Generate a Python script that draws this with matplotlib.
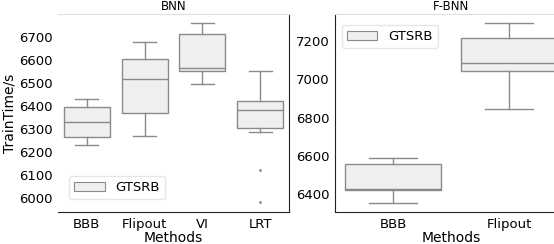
import matplotlib.pyplot as plt

# BNN panel (left)
bnn_methods = ['BBB', 'Flipout', 'VI', 'LRT']
bnn_whislo = [6230, 6269, 6494, 6286]
bnn_q1 = [6267, 6368, 6551, 6303]
bnn_med = [6329, 6515, 6566, 6382]
bnn_q3 = [6394, 6602, 6710, 6421]
bnn_whishi = [6429, 6676, 6758, 6553]
bnn_fliers = [[], [], [], [6123, 5983]]

# F-BNN panel (right)
fbnn_methods = ['BBB', 'Flipout']
fbnn_whislo = [6355, 6843]
fbnn_q1 = [6421, 7042]
fbnn_med = [6429, 7084]
fbnn_q3 = [6556, 7212]
fbnn_whishi = [6588, 7291]
fbnn_fliers = [[], []]

face = '#efefef'
edge = '#8a8a8a'


def stats(lo, q1, med, q3, hi, fl):
    return [dict(whislo=a, q1=b, med=c, q3=d, whishi=e, fliers=f)
            for a, b, c, d, e, f in zip(lo, q1, med, q3, hi, fl)]


def draw(ax, methods, st, title, width):
    ax.bxp(st, positions=range(len(methods)), widths=width,
           patch_artist=True, showfliers=True,
           boxprops=dict(facecolor=face, edgecolor=edge, linewidth=1),
           medianprops=dict(color=edge, linewidth=1),
           whiskerprops=dict(color=edge, linewidth=1),
           capprops=dict(color=edge, linewidth=1),
           flierprops=dict(marker='.', markersize=2, markerfacecolor=edge,
                           markeredgecolor=edge))
    ax.set_xlim(-0.5, len(methods) - 0.5)
    ax.set_xticks(range(len(methods)))
    ax.set_xticklabels(methods)
    ax.set_xlabel('Methods', fontsize=10, labelpad=0)
    ax.set_title(title, fontsize=8.5, pad=3)
    ax.tick_params(length=0, labelsize=9.5, pad=4)
    ax.spines['top'].set_color('#e0e0e0')
    for s in ['left', 'right', 'bottom']:
        ax.spines[s].set_color('#222222')
    leg_patch = plt.Rectangle((0, 0), 1, 1, facecolor=face, edgecolor=edge,
                              linewidth=0.8)
    return leg_patch


fig = plt.figure(figsize=(5.54, 2.44), dpi=100)
ax1 = fig.add_axes([58 / 554, 32 / 244, 231 / 554, 198 / 244])
ax2 = fig.add_axes([335 / 554, 32 / 244, 232 / 554, 198 / 244])

h1 = draw(ax1, bnn_methods,
          stats(bnn_whislo, bnn_q1, bnn_med, bnn_q3, bnn_whishi, bnn_fliers),
          'BNN', 0.8)
ax1.set_ylim(5941, 6798)
ax1.set_yticks([6000, 6100, 6200, 6300, 6400, 6500, 6600, 6700])
ax1.set_ylabel('TrainTime/s', fontsize=10, labelpad=2)
ax1.spines['left'].set_visible(False)
ax1.legend([h1], ['GTSRB'], loc='lower left', fontsize=9.5,
           bbox_to_anchor=(0.02, 0.03), handlelength=2.3, framealpha=1,
           edgecolor='#e6e6e6')

h2 = draw(ax2, fbnn_methods,
          stats(fbnn_whislo, fbnn_q1, fbnn_med, fbnn_q3, fbnn_whishi, fbnn_fliers),
          'F-BNN', 0.82)
ax2.set_ylim(6308, 7339)
ax2.set_yticks([6400, 6600, 6800, 7000, 7200])
ax2.legend([h2], ['GTSRB'], loc='upper left', fontsize=9.5,
           bbox_to_anchor=(0.0, 0.98), handlelength=2.3, framealpha=1,
           edgecolor='#e6e6e6')

fig.savefig('out.png', dpi=100)
